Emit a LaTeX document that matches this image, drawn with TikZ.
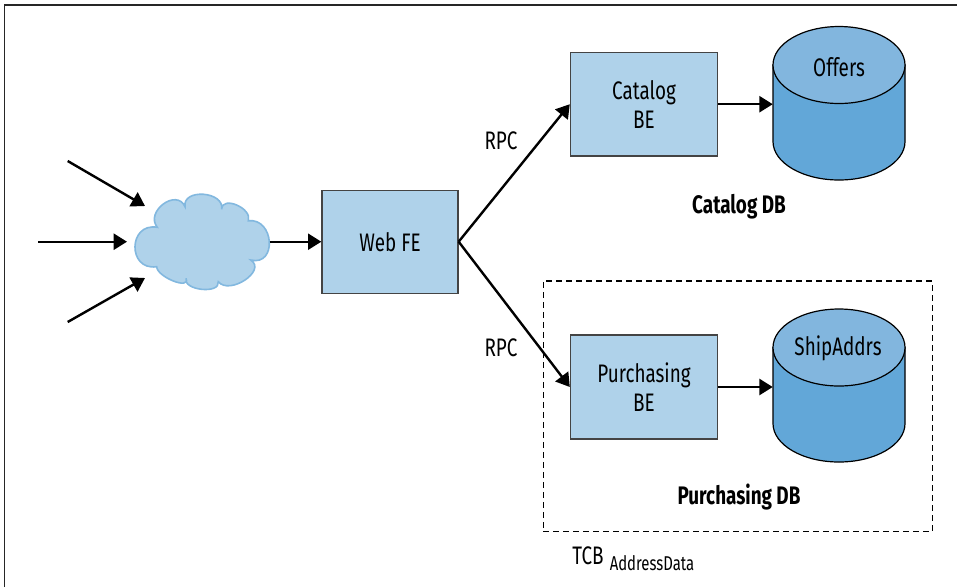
\documentclass[tikz,border=0pt]{standalone}
\usepackage{fontspec}
\setmainfont[FakeStretch=0.745]{Fira Sans}
\usetikzlibrary{arrows.meta}
\definecolor{boxblue}{HTML}{AFD2EA}
\definecolor{cloudline}{HTML}{82B8DF}
\definecolor{cyltop}{HTML}{82B6DE}
\definecolor{cylbody}{HTML}{62A7D8}
\definecolor{boxline}{HTML}{444444}
\tikzset{
  conn/.style={line width=1.8pt,-{Triangle[length=10pt,width=12pt]},black},
  svc/.style={draw=boxline,line width=1pt,fill=boxblue,inner sep=0pt,align=center,font=\fontsize{19}{21.5}\selectfont},
  cyl/.style={draw=black,line width=0.9pt},
  txt/.style={inner sep=0pt,font=\fontsize{19}{21.5}\selectfont},
  boldtxt/.style={inner sep=0pt,font=\fontsize{19}{20}\selectfont\bfseries},
  subtxt/.style={inner sep=0pt,font=\fontsize{15}{16}\selectfont},
  span/.style={inner sep=0pt,minimum width=99pt,minimum height=115.5pt}
}
\begin{document}
\begin{tikzpicture}[x=0.75pt,y=-0.75pt]
\useasboundingbox (0,0) rectangle (957,587);
\fill[white] (0,0) rectangle (957,587);
% frame
\draw[line width=1.1pt,draw=black!85] (4.5,587) -- (4.5,5) -- (957,5);
% cloud
\filldraw[fill=boxblue,draw=cloudline,line width=1.2pt]
  (157.3,227.3)
  .. controls (128,222.2) and (127.3,271) .. (156.7,266.7)
  .. controls (157,277.1) and (190.9,290.5) .. (186,278.3)
  .. controls (182.8,290.4) and (220.3,294.4) .. (218.3,281.7)
  .. controls (229.7,295.6) and (267.3,270.5) .. (250.7,260)
  .. controls (277.4,266.5) and (274.4,217.8) .. (248.3,220.7)
  .. controls (252.7,208.3) and (221.9,195.1) .. (221.7,209.3)
  .. controls (224.6,191.2) and (182.1,188.2) .. (185,206.7)
  .. controls (176.7,187.8) and (144.6,211.6) .. (157.3,227.3)
  -- cycle;
\coordinate (cloudE) at (269.5,241.7);
\coordinate (inA) at (67.7,161);
\coordinate (inAend) at (145,206);
\coordinate (inB) at (38,241.7);
\coordinate (inBend) at (127,241.7);
\coordinate (inC) at (67.7,322);
\coordinate (inCend) at (145,278);
% boxes
\node[svc,minimum width=102pt,minimum height=77.3pt] (webfe) at (390,241.7) {Web FE};
\node[svc,minimum width=110.3pt,minimum height=77.8pt] (catalog) at (644,104.2) {Catalog\\BE};
\node[svc,minimum width=110.3pt,minimum height=77.8pt] (purchasing) at (644,387) {Purchasing\\BE};
% cylinders
\path[cyl,fill=cylbody] (773,65) -- (773,141.5) arc[start angle=180,end angle=0,x radius=66,y radius=38.5] -- (905,65) -- cycle;
\draw[cyl,fill=cyltop] (839,65) ellipse[x radius=66,y radius=38.5];
\path[cyl,fill=cylbody] (773,347.5) -- (773,423.5) arc[start angle=180,end angle=0,x radius=66,y radius=38.5] -- (905,347.5) -- cycle;
\draw[cyl,fill=cyltop] (839,347.5) ellipse[x radius=66,y radius=38.5];
\node[span] (offerscyl) at (839,103) {};
\node[span] (shipcyl) at (839,385.5) {};
\node[txt] (offers) at (839,67) {Offers};
\node[txt] (ship) at (838,348) {ShipAddrs};
% connectors
\draw[conn] (inA) -- (inAend);
\draw[conn] (inB) -- (inBend);
\draw[conn] (inC) -- (inCend);
\draw[conn] (cloudE) -- (webfe.west);
\draw[conn] (webfe.east) -- (catalog.west);
\draw[conn] (webfe.east) -- (purchasing.west);
\draw[conn] (catalog.east) -- (catalog.east -| offerscyl.west);
\draw[conn] (purchasing.east) -- (purchasing.east -| shipcyl.west);
% labels
\node[txt] (rpcA) at (501,141) {RPC};
\node[txt] (rpcB) at (501,347.5) {RPC};
\node[boldtxt] (catdb) at (739,207) {Catalog DB};
\node[boldtxt] (purdb) at (739,497) {Purchasing DB};
\node[draw,dashed,dash pattern=on 4.5pt off 3pt,line width=0.95pt,minimum width=291.7pt,minimum height=188pt,inner sep=0pt] (tcb) at (737.9,406.3) {};
\node[txt] (tcblabel) at (588,556) {TCB};
\node[subtxt] (addr) at (652,563) {AddressData};
\end{tikzpicture}
\end{document}
